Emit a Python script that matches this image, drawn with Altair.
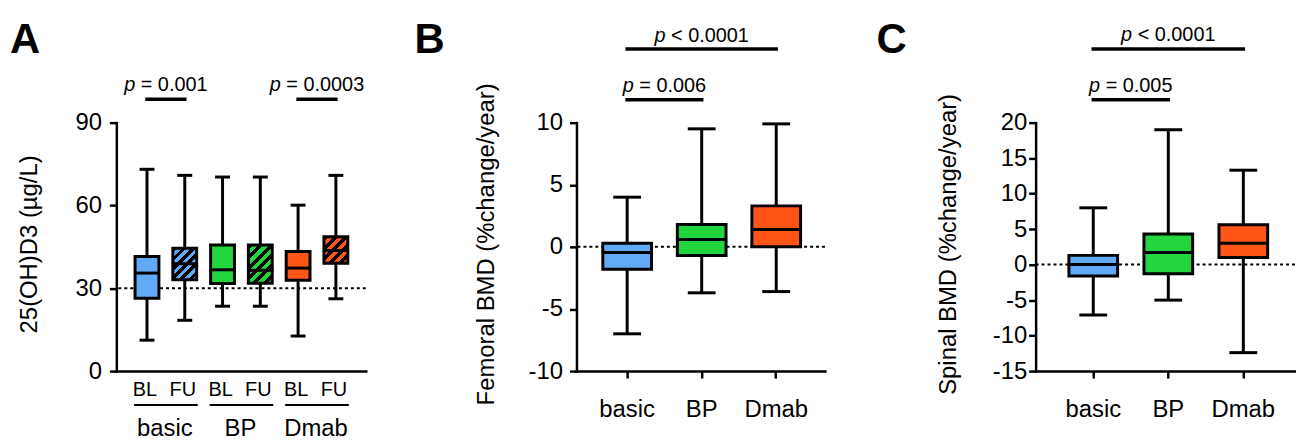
import altair as alt
import pandas as pd

FONT = "Liberation Sans"
GROUPS = ["basic", "BP", "Dmab"]
COLORS = ["#62AAF5", "#23D53C", "#FF5516"]

# ---------------- data: panel A (25(OH)D3, BL / FU per group)
a_group = ["basic", "basic", "BP", "BP", "Dmab", "Dmab"]
a_visit = ["BL", "FU", "BL", "FU", "BL", "FU"]
a_low = [11.2, 18.4, 23.5, 23.5, 12.7, 26.2]
a_q1 = [26.4, 33.1, 31.7, 31.8, 32.9, 39.1]
a_med = [35.5, 38.9, 36.7, 36.5, 37.3, 43.7]
a_q3 = [41.5, 44.5, 45.7, 45.7, 43.3, 48.7]
a_high = [73.1, 70.9, 70.3, 70.3, 60.1, 70.9]
a_ticks = [0, 30, 60, 90]
a_domain = [0, 90]
a_ref = 30
a_pairs = [("basic BL", "basic FU", "= 0.001"), ("Dmab BL", "Dmab FU", "= 0.0003")]

# ---------------- data: panel B (femoral BMD)
b_low = [-7.0, -3.7, -3.6]
b_q1 = [-1.8, -0.7, 0.0]
b_med = [-0.45, 0.6, 1.4]
b_q3 = [0.3, 1.8, 3.3]
b_high = [4.0, 9.5, 9.9]
b_ticks = [-10, -5, 0, 5, 10]
b_domain = [-10, 10]
b_pairs = [("basic", "BP", "= 0.006"), ("basic", "Dmab", "< 0.0001")]

# ---------------- data: panel C (spinal BMD)
c_low = [-7.1, -5.0, -12.4]
c_q1 = [-1.6, -1.3, 1.0]
c_med = [0.0, 1.7, 3.0]
c_q3 = [1.3, 4.3, 5.6]
c_high = [8.0, 19.0, 13.3]
c_ticks = [-15, -10, -5, 0, 5, 10, 15, 20]
c_domain = [-15, 20]
c_pairs = [("basic", "BP", "= 0.005"), ("basic", "Dmab", "< 0.0001")]

ref_zero = 0

# ---------------- layout / style constants
PLOT_H = 250
A_W, B_W, C_W = 251, 250, 261
A_XDOM = [-0.18, 6.16]
SPACING = 212
LW = 3
PSIZE = 20
CHAR_W = {"p": 556, " ": 278, "=": 584, "<": 584, ".": 278}


def text_w(s, size):
    return sum(CHAR_W.get(ch, 556) for ch in s) * size / 1000.0


def y_axis(title, values, title_x, label_pad):
    return alt.Axis(
        title=title, values=values, grid=False, labelExpr="datum.value",
        labelFontSize=24, labelFont=FONT, labelColor="black", labelPadding=label_pad,
        tickSize=7, tickWidth=2.5, tickColor="black",
        domainWidth=2.5, domainColor="black", domainCap="square",
        titleFont=FONT, titleFontSize=24, titleFontWeight="normal", titleColor="black",
        titleX=title_x, titleY=122, titleBaseline="alphabetic",
    )


def hatch(color, w, h, period=10.0, frac=0.5):
    k = (w + h) / (w * w + h * h)
    n = max(1, int(round((w + h) / period)))
    stops = []
    for i in range(n):
        a, b, c = i / n, (i + frac) / n, (i + 1) / n
        stops += [
            alt.GradientStop(offset=a, color="black"),
            alt.GradientStop(offset=b, color="black"),
            alt.GradientStop(offset=b, color=color),
            alt.GradientStop(offset=c, color=color),
        ]
    return alt.LinearGradient(gradient="linear", stops=stops, x1=0, y1=0, x2=w * k, y2=h * k)


def pval_layers(df, x_enc, dx_center, y_px, rest):
    wp = text_w("p", PSIZE)
    wr = text_w(" " + rest, PSIZE)
    split = dx_center - (wp + wr) / 2 + wp
    d = df.assign(sym="p", rest=rest)
    p = alt.Chart(d).mark_text(font=FONT, fontSize=PSIZE, fontStyle="italic", align="right",
                               baseline="alphabetic", dx=split, color="black").encode(
        x=x_enc, y=alt.value(y_px), text="sym:N")
    r = alt.Chart(d).mark_text(font=FONT, fontSize=PSIZE, align="left", baseline="alphabetic",
                               dx=split + text_w(" ", PSIZE), color="black").encode(
        x=x_enc, y=alt.value(y_px), text="rest:N")
    return [p, r]


def letter_layer(letter, x_px):
    return alt.Chart(pd.DataFrame({"letter": [letter]})).mark_text(
        font=FONT, fontSize=42, fontWeight="bold", align="left", baseline="alphabetic",
        color="black").encode(x=alt.value(x_px), y=alt.value(-70), text="letter:N")


# ================= Panel A =================
a_df = pd.DataFrame({"group": a_group, "visit": a_visit, "low": a_low, "q1": a_q1,
                     "med": a_med, "q3": a_q3, "high": a_high})
a_df["pos"] = a_df.index + 0.5
a_df["key"] = a_df["group"] + " " + a_df["visit"]
a_px_y = PLOT_H / (a_domain[1] - a_domain[0])


def xA(field):
    return alt.X(field, type="quantitative",
                 scale=alt.Scale(domain=A_XDOM, nice=False, zero=False),
                 axis=alt.Axis(title=None, labels=False, ticks=False, grid=False,
                               domainWidth=2.5, domainColor="black", domainCap="square"))


A_YAXIS = y_axis("25(OH)D3 (µg/L)", a_ticks, -80, 8)


def yA(field):
    return alt.Y(field, type="quantitative", scale=alt.Scale(domain=a_domain, nice=False, zero=False),
                 axis=A_YAXIS)


baseA = alt.Chart(a_df)
a_layers = [
    alt.Chart(pd.DataFrame({"ref": [a_ref]})).mark_rule(strokeDash=[3, 3], strokeWidth=2, color="black")
    .encode(y=yA("ref")),
    baseA.mark_rule(strokeWidth=LW, color="black").encode(x=xA("pos"), y=yA("low"), y2="high"),
    baseA.transform_filter(alt.datum.visit == "BL").mark_bar(size=24, orient="vertical", stroke="black",
                                                             strokeWidth=LW)
    .encode(x=xA("pos"), y=yA("q1"), y2="q3",
            color=alt.Color("group:N", scale=alt.Scale(domain=GROUPS, range=COLORS), legend=None)),
]
for _, row in a_df[a_df["visit"] == "FU"].iterrows():
    col = COLORS[GROUPS.index(row["group"])]
    h = (row["q3"] - row["q1"]) * a_px_y
    a_layers.append(
        alt.Chart(a_df[a_df["key"] == row["key"]]).mark_bar(
            size=24, orient="vertical", stroke="black", strokeWidth=LW, fill=hatch(col, 24, h))
        .encode(x=xA("pos"), y=yA("q1"), y2="q3"))
a_layers += [
    baseA.mark_tick(orient="horizontal", size=26, thickness=LW, color="black", opacity=1)
    .encode(x=xA("pos"), y=yA("med")),
    baseA.mark_tick(orient="horizontal", size=15, thickness=LW, color="black", opacity=1)
    .encode(x=xA("pos"), y=yA("low")),
    baseA.mark_tick(orient="horizontal", size=15, thickness=LW, color="black", opacity=1)
    .encode(x=xA("pos"), y=yA("high")),
    baseA.mark_text(font=FONT, fontSize=20, baseline="alphabetic", dx=-2, color="black")
    .encode(x=xA("pos"), y=alt.value(275), text="visit:N"),
]
a_grp = a_df.groupby("group", sort=False)["pos"].mean().reset_index()
a_layers += [
    alt.Chart(a_grp).mark_tick(orient="horizontal", size=64, thickness=2, color="black", opacity=1)
    .encode(x=xA("pos"), y=alt.value(284)),
    alt.Chart(a_grp).mark_text(font=FONT, fontSize=24, baseline="alphabetic", dx=-1, color="black")
    .encode(x=xA("pos"), y=alt.value(315), text="group:N"),
]
for k1, k2, rest in a_pairs:
    p1 = float(a_df.loc[a_df["key"] == k1, "pos"].iloc[0])
    p2 = float(a_df.loc[a_df["key"] == k2, "pos"].iloc[0])
    d = pd.DataFrame({"x1": [p1], "x2": [p2], "mid": [(p1 + p2) / 2]})
    a_layers.append(alt.Chart(d).mark_rule(strokeWidth=3.5, color="black", strokeCap="square")
                    .encode(x=xA("x1"), x2="x2", y=alt.value(-23.5)))
    a_layers += pval_layers(d, xA("mid"), 0, -32, rest)
a_layers.append(letter_layer("A", -107))
panelA = alt.layer(*a_layers).properties(width=A_W, height=PLOT_H)


# ================= Panels B, C =================
def make_panel(low, q1, med, q3, high, ticks, domain, width, step, po, al, title, title_x,
               label_pad, pairs, letter, letter_x, y_levels):
    df = pd.DataFrame({"group": GROUPS, "low": low, "q1": q1, "med": med, "q3": q3, "high": high})
    xaxis = alt.Axis(title=None, labelAngle=0, labelFontSize=24, labelFont=FONT, labelColor="black",
                     labelPadding=20, tickSize=7, tickWidth=2.5, tickColor="black",
                     domainWidth=2.5, domainColor="black", domainCap="square", grid=False)
    xscale = alt.Scale(domain=GROUPS, paddingInner=0, paddingOuter=po, align=al)
    yaxis = y_axis(title, ticks, title_x, label_pad)

    def xf(field):
        return alt.X(field, type="nominal", scale=xscale, axis=xaxis)

    def yf(field):
        return alt.Y(field, type="quantitative", scale=alt.Scale(domain=domain, nice=False, zero=False),
                     axis=yaxis)

    base = alt.Chart(df)
    layers = [
        alt.Chart(pd.DataFrame({"ref": [ref_zero]})).mark_rule(strokeDash=[3, 3], strokeWidth=2,
                                                               color="black").encode(y=yf("ref")),
        base.mark_rule(strokeWidth=LW, color="black").encode(x=xf("group"), y=yf("low"), y2="high"),
        base.mark_bar(size=49, stroke="black", strokeWidth=LW)
        .encode(x=xf("group"), y=yf("q1"), y2="q3",
                color=alt.Color("group:N", scale=alt.Scale(domain=GROUPS, range=COLORS), legend=None)),
        base.mark_tick(size=51, thickness=LW, color="black", opacity=1).encode(x=xf("group"), y=yf("med")),
        base.mark_tick(size=28, thickness=LW, color="black", opacity=1).encode(x=xf("group"), y=yf("low")),
        base.mark_tick(size=28, thickness=LW, color="black", opacity=1).encode(x=xf("group"), y=yf("high")),
    ]
    for (g1, g2, rest), (ly, ty) in zip(pairs, y_levels):
        d = pd.DataFrame({"g1": [g1], "g2": [g2]})
        layers.append(alt.Chart(d).mark_rule(strokeWidth=3.5, color="black", strokeCap="square")
                      .encode(x=xf("g1"), x2="g2", y=alt.value(ly)))
        half = (GROUPS.index(g2) - GROUPS.index(g1)) * step / 2
        layers += pval_layers(d, xf("g1"), half, ty, rest)
    layers.append(letter_layer(letter, letter_x))
    return alt.layer(*layers).properties(width=width, height=PLOT_H)


panelB = make_panel(b_low, b_q1, b_med, b_q3, b_high, b_ticks, b_domain, B_W, 75, 0.1667, 0.54,
                    "Femoral BMD (%change/year)", -83, 7, b_pairs, "B", -163, [(-23, -31), (-74, -81)])
panelC = make_panel(c_low, c_q1, c_med, c_q3, c_high, c_ticks, c_domain, C_W, 75.5, 0.2285, 0.587,
                    "Spinal BMD (%change/year)", -81, 2, c_pairs, "C", -160, [(-23, -31), (-74, -82)])

chart = alt.hconcat(panelA, panelB, panelC, spacing=SPACING, bounds="flush").properties(
    padding={"left": 2, "top": 10, "right": 0, "bottom": 0}
).configure_view(stroke=None)

chart.save("out.html", embed_options={"renderer": "svg", "actions": False})
